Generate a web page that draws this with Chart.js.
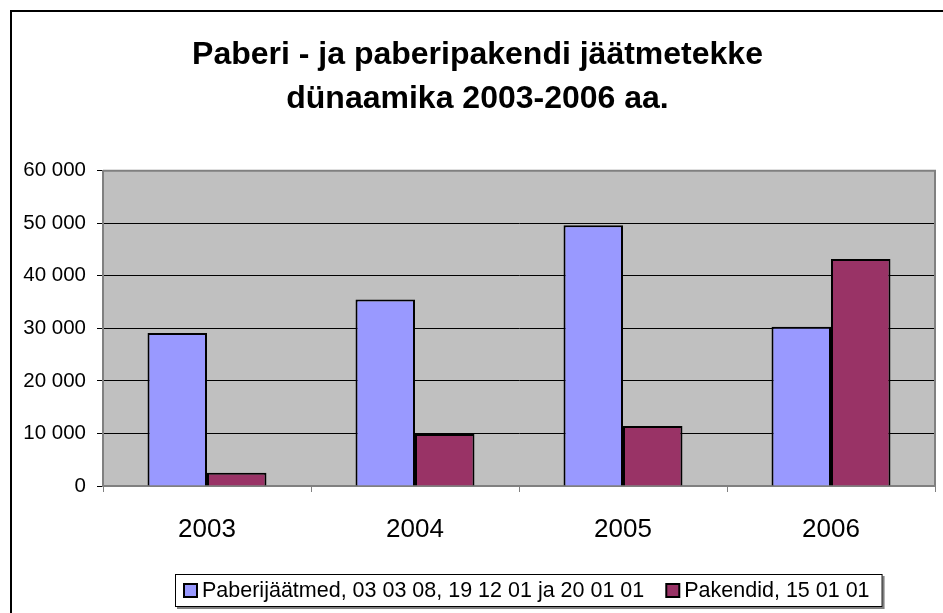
<!DOCTYPE html>
<html>
<head>
<meta charset="utf-8">
<script src="https://cdn.jsdelivr.net/npm/chart.js@4/dist/chart.umd.min.js"></script>
<style>
  html, body { margin: 0; padding: 0; background: #fff; overflow: hidden; }
  #wrap { width: 943px; height: 613px; position: relative; }
</style>
</head>
<body>
<div id="wrap"><canvas id="chart" width="943" height="613"></canvas></div>
<script>
// data
const years = ['2003', '2004', '2005', '2006'];
const paperWaste = [29100, 35500, 49600, 30300];
const packaging = [2500, 9900, 11400, 43200];
const seriesNames = ['Paberijäätmed, 03 03 08, 19 12 01 ja 20 01 01', 'Pakendid, 15 01 01'];
const titleLines = ['Paberi - ja paberipakendi jäätmetekke', 'dünaamika 2003-2006 aa.'];

const FONT = "'Liberation Sans', Arial, sans-serif";

// outer frame, grey plot background and border
const frame = {
  id: 'frame',
  beforeDraw(chart) {
    const ctx = chart.ctx, a = chart.chartArea;
    ctx.save();
    ctx.fillStyle = '#fff';
    ctx.fillRect(0, 0, chart.width, chart.height);
    ctx.strokeStyle = '#000';
    ctx.lineWidth = 2;
    ctx.strokeRect(11, 11, chart.width + 20, chart.height + 20);
    ctx.fillStyle = '#c0c0c0';
    ctx.fillRect(a.left, a.top, a.right - a.left, a.bottom - a.top);
    ctx.restore();
  },
  afterDraw(chart) {
    const ctx = chart.ctx, a = chart.chartArea;
    ctx.save();
    ctx.strokeStyle = '#808080';
    ctx.lineWidth = 2;
    ctx.beginPath();
    ctx.moveTo(a.left, a.top);
    ctx.lineTo(a.right, a.top);
    ctx.lineTo(a.right, a.bottom);
    ctx.stroke();
    ctx.restore();
  }
};

// boxed legend like the spreadsheet one
const boxLegend = {
  id: 'boxLegend',
  afterDraw(chart) {
    const ctx = chart.ctx;
    const left = 175, top = 574, h = 33, sq = 13;
    ctx.save();
    ctx.font = '21.5px ' + FONT;
    const items = chart.data.datasets.map(ds => ({
      label: ds.label, color: ds.backgroundColor, w: ctx.measureText(ds.label).width
    }));
    let width = 8;
    items.forEach((it, i) => { width += 19 + it.w + (i < items.length - 1 ? 21 : 13); });
    ctx.fillStyle = '#808080';
    ctx.fillRect(left + 2, top + 2, width, h);
    ctx.fillStyle = '#fff';
    ctx.fillRect(left, top, width, h);
    ctx.strokeStyle = '#000';
    ctx.lineWidth = 1;
    ctx.strokeRect(left + 0.5, top + 0.5, width - 1, h - 1);
    let x = left + 8;
    const cy = top + h / 2;
    items.forEach(it => {
      ctx.fillStyle = it.color;
      ctx.fillRect(x + 1, cy - sq / 2, sq, sq);
      ctx.strokeStyle = '#000';
      ctx.lineWidth = 2;
      ctx.strokeRect(x + 1, cy - sq / 2, sq, sq);
      ctx.fillStyle = '#000';
      ctx.textBaseline = 'middle';
      ctx.fillText(it.label, x + 19, cy + 1);
      x += 19 + it.w + 21;
    });
    ctx.restore();
  }
};

new Chart(document.getElementById('chart'), {
  type: 'bar',
  data: {
    labels: years,
    datasets: [
      {
        label: seriesNames[0],
        data: paperWaste,
        backgroundColor: '#9999ff',
        borderColor: '#000',
        borderWidth: 2
      },
      {
        label: seriesNames[1],
        data: packaging,
        backgroundColor: '#993366',
        borderColor: '#000',
        borderWidth: 2
      }
    ]
  },
  options: {
    responsive: false,
    animation: false,
    devicePixelRatio: 1,
    datasets: { bar: { categoryPercentage: 0.572, barPercentage: 1 } },
    layout: { padding: { left: 20, right: 8, top: 0, bottom: 0 } },
    plugins: {
      legend: { display: false },
      tooltip: { enabled: false },
      title: {
        display: true,
        text: titleLines,
        color: '#000',
        font: { family: FONT, size: 32, weight: 'bold', lineHeight: 1.37 },
        padding: { top: 33, bottom: 50 }
      }
    },
    scales: {
      x: {
        afterFit(scale) { scale.height = 127; },
        grid: { drawOnChartArea: false, drawTicks: true, tickLength: 6, color: '#808080', lineWidth: 1 },
        border: { color: '#808080', width: 2 },
        ticks: { color: '#000', font: { family: FONT, size: 26 }, padding: 22 }
      },
      y: {
        min: 0,
        max: 60000,
        afterFit(scale) { scale.width = 83; },
        grid: { color: '#000', lineWidth: 1, tickLength: 6, drawTicks: true },
        border: { color: '#808080', width: 2 },
        ticks: {
          stepSize: 10000,
          color: '#000',
          padding: 11,
          font: { family: FONT, size: 20.5 },
          callback: v => v === 0 ? '0' : String(v).replace(/\B(?=(\d{3})+(?!\d))/g, ' ')
        }
      }
    }
  },
  plugins: [frame, boxLegend]
});
</script>
</body>
</html>
